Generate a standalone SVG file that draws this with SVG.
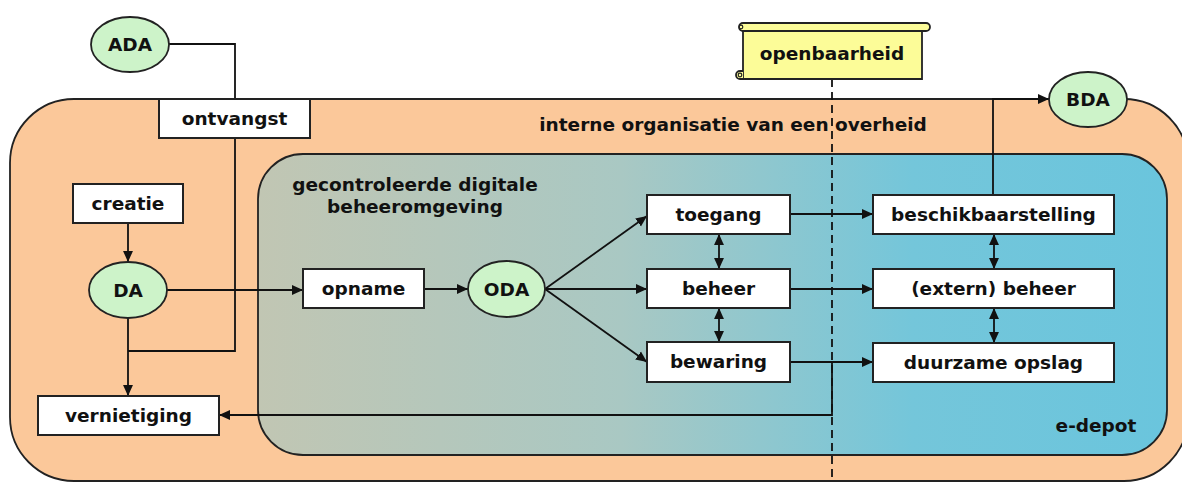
<svg xmlns="http://www.w3.org/2000/svg" width="1182" height="482" viewBox="0 0 1182 482">
<defs>
<style>
.t{font-family:"DejaVu Sans",Verdana,sans-serif;font-weight:bold;font-size:18.5px;fill:#111;text-anchor:middle}
.box{fill:#fff;stroke:#222;stroke-width:2}
.ell{fill:#CDF3C9;stroke:#222;stroke-width:1.8}
.ln{fill:none;stroke:#111;stroke-width:1.8}
</style>
<linearGradient id="g" x1="0" y1="0" x2="1" y2="0">
<stop offset="0" stop-color="#C1C6B3"/>
<stop offset="0.4" stop-color="#A9C8C3"/>
<stop offset="0.72" stop-color="#74C6DA"/>
<stop offset="1" stop-color="#6AC5DD"/>
</linearGradient>
<marker id="a" viewBox="0 0 10 10" refX="10" refY="5" markerWidth="11" markerHeight="11" markerUnits="userSpaceOnUse" orient="auto-start-reverse">
<path d="M0,0.5 L10,5 L0,9.5 z" fill="#111"/>
</marker>
</defs>
<g id="org">
<rect x="10" y="99" width="1178" height="382" rx="64" fill="#FBC89A" stroke="#222" stroke-width="1.8"/>
<text class="t" x="733" y="131">interne organisatie van een overheid</text>
</g>
<g id="beheeromgeving">
<rect x="258" y="154" width="909" height="301" rx="45" fill="url(#g)" stroke="#222" stroke-width="1.8"/>
<text class="t" x="415" y="191">gecontroleerde digitale</text>
<text class="t" x="415" y="213">beheeromgeving</text>
<text class="t" x="1096" y="432">e-depot</text>
</g>
<g id="connectors">
<polyline class="ln" points="169,44 235,44 235,99"/>
<polyline class="ln" points="235,138 235,351 128,351"/>
<line class="ln" x1="128" y1="223" x2="128" y2="262" marker-end="url(#a)"/>
<line class="ln" x1="166" y1="290" x2="303" y2="290" marker-end="url(#a)"/>
<line class="ln" x1="128" y1="318" x2="128" y2="396" marker-end="url(#a)"/>
<line class="ln" x1="424" y1="289" x2="468" y2="289" marker-end="url(#a)"/>
<line class="ln" x1="545" y1="289" x2="647" y2="216" marker-end="url(#a)"/>
<line class="ln" x1="545" y1="289" x2="647" y2="289" marker-end="url(#a)"/>
<line class="ln" x1="545" y1="289" x2="647" y2="362" marker-end="url(#a)"/>
<line class="ln" x1="719" y1="234" x2="719" y2="269" marker-start="url(#a)" marker-end="url(#a)"/>
<line class="ln" x1="719" y1="308" x2="719" y2="342" marker-start="url(#a)" marker-end="url(#a)"/>
<line class="ln" x1="790" y1="214" x2="873" y2="214" marker-end="url(#a)"/>
<line class="ln" x1="790" y1="289" x2="873" y2="289" marker-end="url(#a)"/>
<line class="ln" x1="790" y1="362" x2="873" y2="362" marker-end="url(#a)"/>
<polyline class="ln" points="832,362 832,415 219,415" marker-end="url(#a)"/>
<line class="ln" x1="994" y1="234" x2="994" y2="269" marker-start="url(#a)" marker-end="url(#a)"/>
<line class="ln" x1="994" y1="308" x2="994" y2="343" marker-start="url(#a)" marker-end="url(#a)"/>
<polyline class="ln" points="993,195 993,99 1049,99" marker-end="url(#a)"/>
<line x1="832" y1="79" x2="832" y2="482" stroke="#111" stroke-width="1.8" stroke-dasharray="8,5"/>
</g>
<g id="ADA"><ellipse class="ell" cx="130" cy="44.5" rx="39" ry="27.5"/><text class="t" x="130" y="51">ADA</text></g>
<g id="ontvangst"><rect class="box" x="159" y="99" width="151" height="39"/><text class="t" x="234.5" y="125">ontvangst</text></g>
<g id="creatie"><rect class="box" x="73" y="184" width="110" height="39"/><text class="t" x="128" y="210">creatie</text></g>
<g id="DA"><ellipse class="ell" cx="128" cy="290" rx="39" ry="28"/><text class="t" x="128" y="297">DA</text></g>
<g id="vernietiging"><rect class="box" x="38" y="396" width="181" height="39"/><text class="t" x="128.5" y="422">vernietiging</text></g>
<g id="opname"><rect class="box" x="303" y="269" width="121" height="39"/><text class="t" x="363.5" y="295">opname</text></g>
<g id="ODA"><ellipse class="ell" cx="506.5" cy="289" rx="38.5" ry="28"/><text class="t" x="506.5" y="296">ODA</text></g>
<g id="toegang"><rect class="box" x="647" y="195" width="143" height="39"/><text class="t" x="718.5" y="221">toegang</text></g>
<g id="beheer"><rect class="box" x="647" y="269" width="143" height="39"/><text class="t" x="718.5" y="295">beheer</text></g>
<g id="bewaring"><rect class="box" x="647" y="342" width="143" height="40"/><text class="t" x="718.5" y="368">bewaring</text></g>
<g id="beschikbaarstelling"><rect class="box" x="873" y="195" width="241" height="39"/><text class="t" x="993.5" y="221">beschikbaarstelling</text></g>
<g id="extern-beheer"><rect class="box" x="873" y="269" width="241" height="39"/><text class="t" x="993.5" y="295">(extern) beheer</text></g>
<g id="duurzame-opslag"><rect class="box" x="873" y="343" width="241" height="39"/><text class="t" x="993.5" y="369">duurzame opslag</text></g>
<g id="BDA"><ellipse class="ell" cx="1088" cy="99.5" rx="39" ry="27.5"/><text class="t" x="1088" y="106">BDA</text></g>
<g id="openbaarheid">
<path d="M743,31 L922,31 L922,79 L743,79 z" fill="#FCFC98" stroke="#222" stroke-width="1.8"/>
<path d="M743,23 L926,23 a4,4 0 0 1 0,8 L743,31 a4,4 0 0 1 0,-8 z" fill="#FCFC98" stroke="#222" stroke-width="1.8"/>
<path d="M743,79 L740,79 a4,4 0 0 1 0,-8 L743,71" fill="#FCFC98" stroke="#222" stroke-width="1.8"/>
<circle cx="741" cy="27" r="1.8" fill="none" stroke="#222" stroke-width="1.2"/>
<circle cx="740" cy="75" r="1.8" fill="none" stroke="#222" stroke-width="1.2"/>
<text class="t" x="832" y="60">openbaarheid</text>
</g>
</svg>
